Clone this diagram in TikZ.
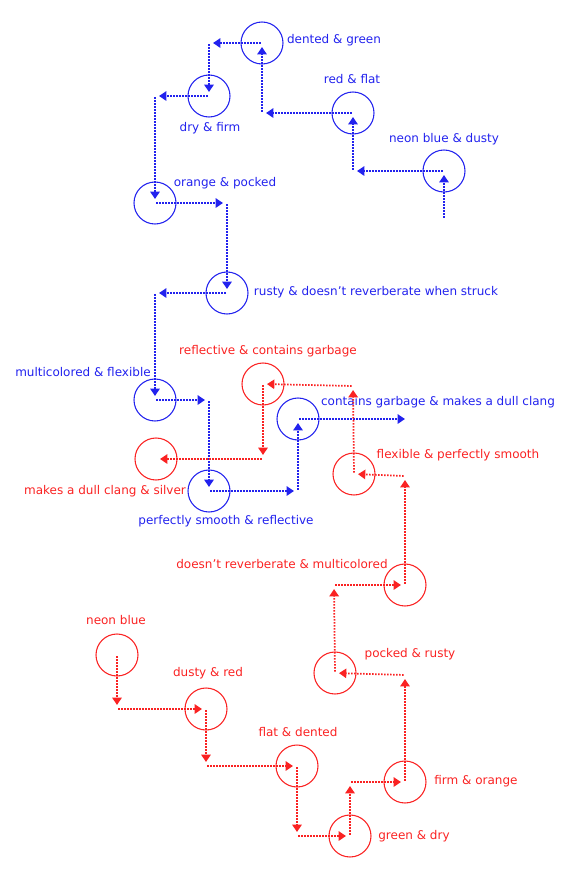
\documentclass[tikz,border=0pt]{standalone}
\usepackage{fontspec}
\setmainfont{DejaVu Sans}
\usetikzlibrary{arrows.meta}
\definecolor{chainblue}{RGB}{34,34,238}
\definecolor{chainred}{RGB}{250,34,34}
\begin{document}
\begin{tikzpicture}[x=0.75pt,y=-0.75pt,font=\fontsize{9pt}{11pt}\selectfont,
  ring/.style={draw,circle,line width=0.8pt,minimum size=31.5pt,inner sep=0pt},
  tag/.style={inner sep=0pt,text height=6.6pt,text depth=0pt},
  lnk/.style={line width=1.3pt,dash pattern=on 1.15pt off 1.1pt,shorten >=3pt,shorten <=1pt,-{Triangle[length=5.5pt,width=7pt]}}]
  \useasboundingbox (0,0) rectangle (588,876);
  \begin{scope}[chainblue]
  \node[ring] (b1) at (444,171){};
  \node[ring] (b2) at (353,113){};
  \node[ring] (b3) at (262,43){};
  \node[ring] (b4) at (209,96){};
  \node[ring] (b5) at (155,203){};
  \node[ring] (b6) at (227,293){};
  \node[ring] (b7) at (155,400){};
  \node[ring] (b8) at (209,491){};
  \node[ring] (b9) at (298,419){};
  \node[tag] (tb1) at (444,138){neon blue \& dusty};
  \node[tag] (tb2) at (352,79){red \& flat};
  \node[tag] (tb3) at (334,39){dented \& green};
  \node[tag] (tb4) at (210,127){dry \& firm};
  \node[tag] (tb5) at (225,182){orange \& pocked};
  \node[tag] (tb6) at (376,291){rusty \& doesn’t reverberate when struck};
  \node[tag] (tb7) at (83,372){multicolored \& flexible};
  \node[tag] (tb8) at (226,520){perfectly smooth \& reflective};
  \node[tag] (tb9) at (438,401){contains garbage \& makes a dull clang};
  \coordinate (bs) at (444,219);
  \coordinate (be) at (409,419);
  \coordinate (k1) at (353,171);
  \coordinate (k2) at (262,113);
  \coordinate (k3) at (209,43);
  \coordinate (k4) at (155,96);
  \coordinate (k5) at (227,203);
  \coordinate (k6) at (155,293);
  \coordinate (k7) at (209,400);
  \coordinate (k8) at (298,491);
  \draw[lnk] (bs) -- (b1.center);
  \draw[lnk] (b1.center) -- (k1);
  \draw[lnk] (k1) -- (b2.center);
  \draw[lnk] (b2.center) -- (k2);
  \draw[lnk] (k2) -- (b3.center);
  \draw[lnk] (b3.center) -- (k3);
  \draw[lnk] (k3) -- (b4.center);
  \draw[lnk] (b4.center) -- (k4);
  \draw[lnk] (k4) -- (b5.center);
  \draw[lnk] (b5.center) -- (k5);
  \draw[lnk] (k5) -- (b6.center);
  \draw[lnk] (b6.center) -- (k6);
  \draw[lnk] (k6) -- (b7.center);
  \draw[lnk] (b7.center) -- (k7);
  \draw[lnk] (k7) -- (b8.center);
  \draw[lnk] (b8.center) -- (k8);
  \draw[lnk] (k8) -- (b9.center);
  \draw[lnk] (b9.center) -- (be);
  \end{scope}
  \begin{scope}[chainred]
  \node[ring] (r1) at (117,655){};
  \node[ring] (r2) at (206,709){};
  \node[ring] (r3) at (297,766){};
  \node[ring] (r4) at (350,836){};
  \node[ring] (r5) at (405,782){};
  \node[ring] (r6) at (335,673){};
  \node[ring] (r7) at (405,585){};
  \node[ring] (r8) at (354,474){};
  \node[ring] (r9) at (263,384){};
  \node[ring] (r10) at (156,459){};
  \node[tag] (tr1) at (116,620){neon blue};
  \node[tag] (tr2) at (208,672){dusty \& red};
  \node[tag] (tr3) at (298,732){flat \& dented};
  \node[tag] (tr4) at (414,835){green \& dry};
  \node[tag] (tr5) at (476,780){firm \& orange};
  \node[tag] (tr6) at (410,653){pocked \& rusty};
  \node[tag] (tr7) at (282,564){doesn’t reverberate \& multicolored};
  \node[tag] (tr8) at (458,454){flexible \& perfectly smooth};
  \node[tag] (tr9) at (268,350){reflective \& contains garbage};
  \node[tag] (tr10) at (105,490){makes a dull clang \& silver};
  \coordinate (q1) at (117,709);
  \coordinate (q2) at (206,766);
  \coordinate (q3) at (297,836);
  \coordinate (q4) at (350,782);
  \coordinate (q5) at (405,675);
  \coordinate (q6) at (334,585);
  \coordinate (q7) at (405,476);
  \coordinate (q8) at (353,386);
  \coordinate (q9) at (263,459);
  \draw[lnk] (r1.center) -- (q1);
  \draw[lnk] (q1) -- (r2.center);
  \draw[lnk] (r2.center) -- (q2);
  \draw[lnk] (q2) -- (r3.center);
  \draw[lnk] (r3.center) -- (q3);
  \draw[lnk] (q3) -- (r4.center);
  \draw[lnk] (r4.center) -- (q4);
  \draw[lnk] (q4) -- (r5.center);
  \draw[lnk] (r5.center) -- (q5);
  \draw[lnk] (q5) -- (r6.center);
  \draw[lnk] (r6.center) -- (q6);
  \draw[lnk] (q6) -- (r7.center);
  \draw[lnk] (r7.center) -- (q7);
  \draw[lnk] (q7) -- (r8.center);
  \draw[lnk] (r8.center) -- (q8);
  \draw[lnk] (q8) -- (r9.center);
  \draw[lnk] (r9.center) -- (q9);
  \draw[lnk] (q9) -- (r10.center);
  \end{scope}
\end{tikzpicture}
\end{document}
